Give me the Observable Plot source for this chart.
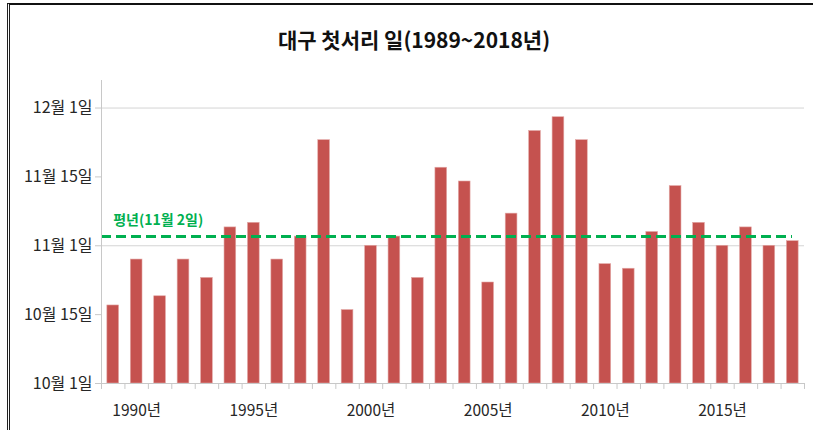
<!DOCTYPE html>
<html>
<head>
<meta charset="utf-8">
<script src="https://cdn.jsdelivr.net/npm/d3@7"></script>
<script src="https://cdn.jsdelivr.net/npm/@observablehq/plot@0.6"></script>
<style>
  html, body { margin: 0; padding: 0; background: #fff; }
  #wrap { position: relative; width: 813px; height: 430px; overflow: hidden; }
  #frame { position: absolute; left: 7px; top: 3px; width: 820px; height: 440px;
           border-top: 2px solid #111; border-left: 3px double #222; box-sizing: border-box; pointer-events: none; }
</style>
</head>
<body>
<div id="wrap"><div id="frame"></div></div>
<script>
const titleText = "대구 첫서리 일(1989~2018년)";
const years = d3.range(1989, 2019);
const frostDates = ["10-18","10-28","10-20","10-28","10-24","11-04","11-05","10-28","11-02","11-23",
                    "10-17","10-31","11-02","10-24","11-17","11-14","10-23","11-07","11-25","11-28",
                    "11-23","10-27","10-26","11-03","11-13","11-05","10-31","11-04","10-31","11-01"];
const normalDate = "11-02";
const normalLabel = "평년(11월 2일)";
const yTickValues = [0, 15, 30, 45, 60];
const yTickLabels = ["10월 1일", "10월 15일", "11월 1일", "11월 15일", "12월 1일"];
const xTickYears = [1990, 1995, 2000, 2005, 2010, 2015];

const dayOffset = s => {
  const [m, d] = s.split("-").map(Number);
  return Math.round((Date.UTC(2000, m - 1, d) - Date.UTC(2000, 9, 1)) / 86400000);
};
const data = years.map((y, i) => ({year: y, day: dayOffset(frostDates[i])}));
const normal = dayOffset(normalDate);

const W = 813, H = 430, mL = 101, mR = 9, mT = 80, mB = 47;
const step = (W - mL - mR) / years.length;
const grey = "#c8c8c8";

const chart = Plot.plot({
  width: W, height: H,
  marginLeft: mL, marginRight: mR, marginTop: mT, marginBottom: mB,
  style: {fontFamily: "'Noto Sans CJK KR', 'Noto Sans', sans-serif", fontSize: "15px", background: "transparent", color: "#262626"},
  x: {type: "band", domain: years, padding: 0, round: false, label: null},
  y: {domain: [0, 66], label: null},
  marks: [
    Plot.ruleY([30, 60], {stroke: "#d4d4d4", strokeWidth: 1}),
    Plot.barY(data, {x: "year", y: "day", insetLeft: step / 4, insetRight: step / 4, fill: "#c5524f", stroke: "#e3a9a7", strokeWidth: 0.6}),
    Plot.ruleY([normal], {stroke: "#00b050", strokeWidth: 3, strokeDasharray: "10,5", insetRight: 12}),
    Plot.text([normalLabel], {x: () => 1989, y: () => normal, dx: 0, dy: -16, textAnchor: "start", fill: "#00b050", fontWeight: "bold", fontSize: 14}),
    Plot.ruleY([0], {stroke: grey}),
    Plot.ruleX([years[0]], {x: d => d, dx: -step / 2, y1: 0, y2: 66, stroke: grey}),
    Plot.ruleX(years, {x: d => d, dx: -step / 2, y1: 0, y2: -1.3, stroke: grey}),
    Plot.ruleX([years[years.length - 1]], {x: d => d, dx: step / 2, y1: 0, y2: -1.3, stroke: grey}),
    Plot.axisY({ticks: yTickValues, tickFormat: d => yTickLabels[yTickValues.indexOf(d)], tickSize: 6, tickPadding: 3, stroke: grey, fill: "#262626", fontSize: 16, label: null}),
    Plot.axisX({ticks: xTickYears, tickFormat: d => d + "년", tickSize: 0, tickPadding: 21, fill: "#262626", fontSize: 15.5, label: null}),
    Plot.text([titleText], {frameAnchor: "top", dx: (W / 2) - (mL + (W - mL - mR) / 2) + 7, dy: -47, fontSize: 21, fontWeight: "bold", fill: "#111"})
  ]
});
chart.style.position = "absolute";
chart.style.left = "0px";
chart.style.top = "0px";
document.getElementById("wrap").prepend(chart);
</script>
</body>
</html>
